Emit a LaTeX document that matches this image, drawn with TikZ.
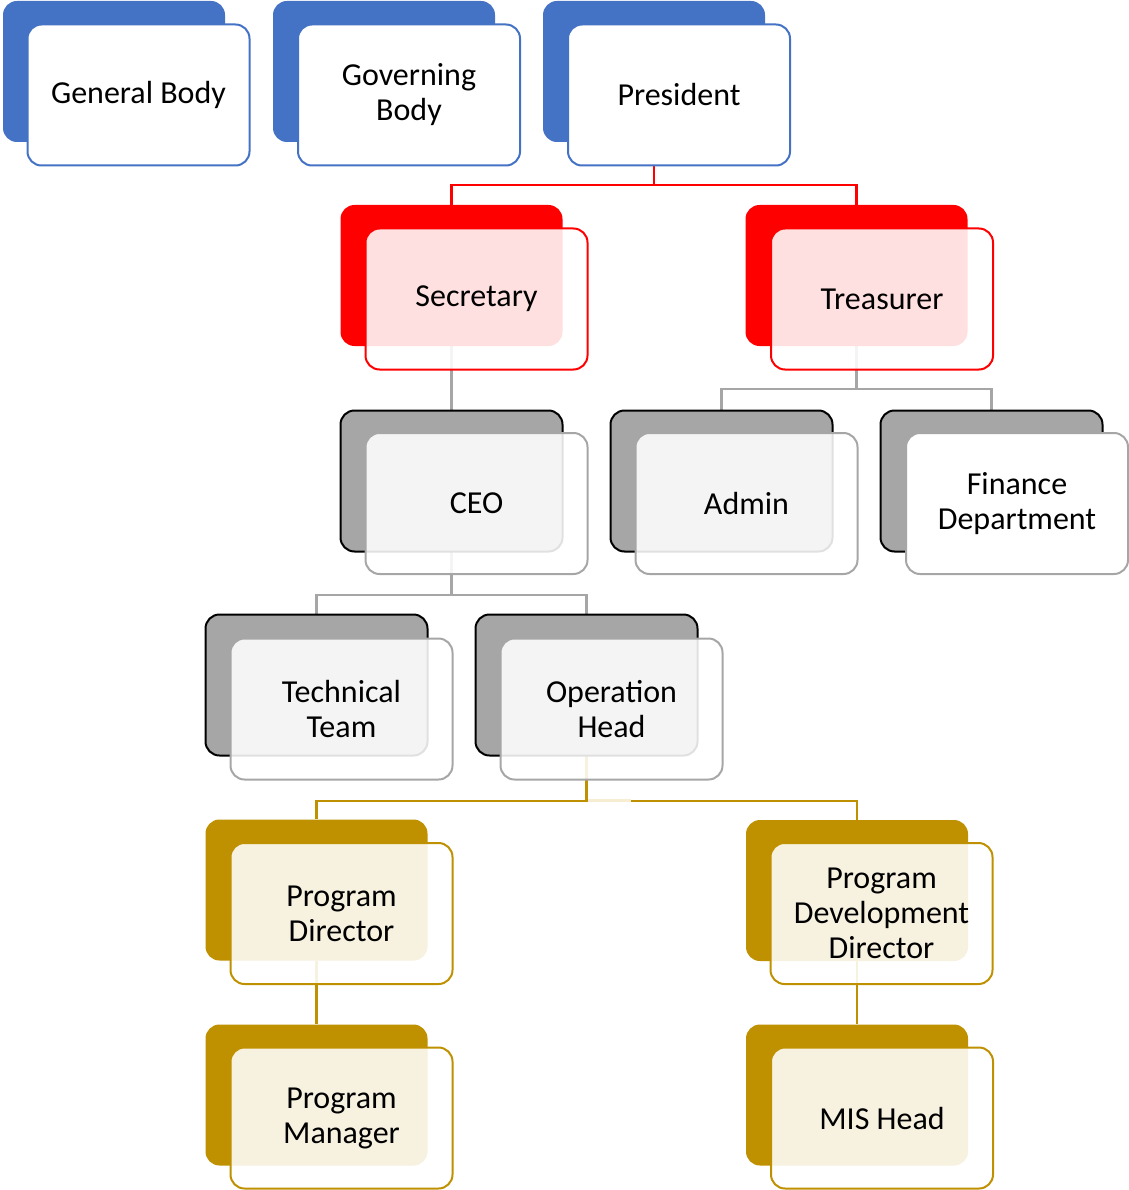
\documentclass[tikz,border=0pt]{standalone}
\usepackage{fontspec}
\setmainfont{Carlito}
\definecolor{cblue}{HTML}{4472C4}
\definecolor{cred}{HTML}{FF0000}
\definecolor{cgray}{HTML}{A6A6A6}
\definecolor{cgold}{HTML}{BF9000}
\definecolor{cpale}{HTML}{F6EDD2}
\begin{document}
\begin{tikzpicture}[x=1pt,y=-1pt,
  back/.style={rounded corners=14pt, minimum width=222pt, minimum height=141pt, inner sep=0pt},
  front/.style={rounded corners=14pt, minimum width=222pt, minimum height=141pt, inner sep=0pt,
    line width=2pt, align=center, text=black, font=\fontsize{32}{35}\selectfont},
  tint/.style={fill=white, fill opacity=0.88, text opacity=1, draw opacity=1},
  solid/.style={fill=white},
  bluebk/.style={back, fill=cblue},
  redbk/.style={back, fill=cred},
  graybk/.style={back, fill=cgray, draw=black, line width=2pt},
  goldbk/.style={back, fill=cgold},
  link/.style={line width=2.2pt},
]
\useasboundingbox (0,0) rectangle (1128,1190);
\coordinate (gbc) at (114,71.5);
% invisible anchors for connectors
\path
  node[back] (presB) at (654,71.5) {}
  node[back] (secB) at (451.5,275.5) {}
  node[back] (treB) at (856.5,275.5) {}
  node[back] (ceoB) at (451.5,481) {}
  node[back] (admB) at (721.5,481) {}
  node[back] (finB) at (991.5,481) {}
  node[back] (tecB) at (316.5,685) {}
  node[back] (opB) at (586.5,685) {}
  node[back] (pdB) at (316.5,890) {}
  node[back] (pddB) at (857,890.5) {}
  node[back] (pmB) at (316.5,1095) {}
  node[back] (misB) at (857,1095) {};
\draw[link, cred] (presB.south) -- ++(0,43) -| (secB.north);
\draw[link, cred] (presB.south) -- ++(0,43) -| (treB.north);
\draw[link, cgray] (secB.south) -- (ceoB.north);
\draw[link, cgray] (treB.south) -- ++(0,43) -| (admB.north);
\draw[link, cgray] (treB.south) -- ++(0,43) -| (finB.north);
\draw[link, cgray] (ceoB.south) -- ++(0,43) -| (tecB.north);
\draw[link, cgray] (ceoB.south) -- ++(0,43) -| (opB.north);
\draw[link, cgold] (opB.south) -- ++(0,45) -| (pdB.north);
\draw[link, cgold] (opB.south) -- ++(0,45) -| (pddB.north);
\coordinate (paleA) at (588,800.5);
\coordinate (paleB) at (631,800.5);
\draw[link, cpale] (paleA) -- (paleB);
\draw[link, cgold] (pdB.south) -- (pmB.north);
\draw[link, cgold] (pddB.south) -- (misB.north);
% back boxes
\node[bluebk] (gbB) at (gbc) {};
\node[bluebk] (govB) at (384,71.5) {};
\node[bluebk] at (presB) {};
\node[redbk] at (secB) {};
\node[redbk] at (treB) {};
\node[graybk] at (ceoB) {};
\node[graybk] at (admB) {};
\node[graybk] at (finB) {};
\node[graybk] at (tecB) {};
\node[graybk] at (opB) {};
\node[goldbk] at (pdB) {};
\node[goldbk] at (pddB) {};
\node[goldbk] at (pmB) {};
\node[goldbk] at (misB) {};
% front boxes
\node[front, solid, draw=cblue] (gbF) at (138.5,95) {General Body};
\node[front, solid, draw=cblue] (govF) at (409,95) {Governing\\Body};
\node[front, solid, draw=cblue] (presF) at (679,95) {President};
\node[front, tint, draw=cred] (secF) at (476.5,299) {Secretary};
\node[front, tint, draw=cred] (treF) at (882,299) {Treasurer};
\node[front, tint, draw=cgray] (ceoF) at (476.5,503.5) {CEO};
\node[front, tint, draw=cgray] (admF) at (746.5,503.5) {Admin};
\node[front, solid, draw=cgray] (finF) at (1017,503.5) {Finance\\Department};
\node[front, tint, draw=cgray] (tecF) at (341.5,709) {Technical\\Team};
\node[front, tint, draw=cgray] (opF) at (611.5,709) {Operation\\Head};
\node[front, tint, draw=cgold] (pdF) at (341.5,913.5) {Program\\Director};
\node[front, tint, draw=cgold] (pddF) at (881.5,913.5) {Program\\Development\\Director};
\node[front, tint, draw=cgold] (pmF) at (341.5,1118) {Program\\Manager};
\node[front, tint, draw=cgold] (misF) at (882,1118) {MIS Head};
\end{tikzpicture}
\end{document}
